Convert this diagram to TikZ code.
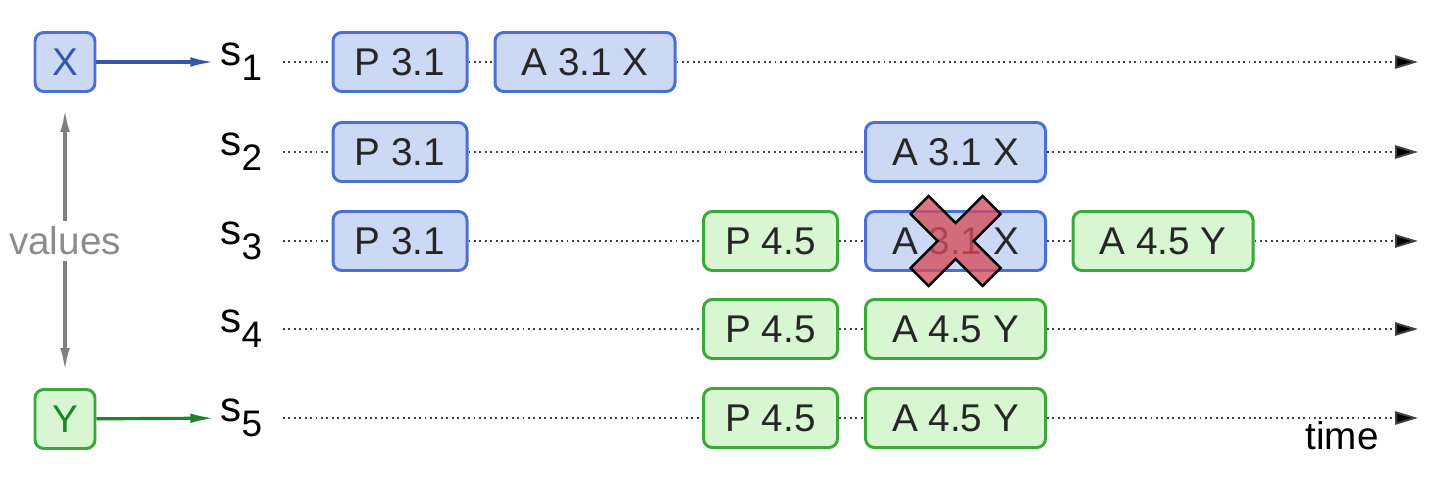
\documentclass[tikz,border=0pt]{standalone}
\usepackage{fontspec}
\setmainfont{Liberation Sans}
\usetikzlibrary{positioning, arrows.meta}
\definecolor{bluefill}{RGB}{203,217,245}
\definecolor{blueline}{RGB}{74,112,208}
\definecolor{bluedark}{RGB}{52,86,172}
\definecolor{greenfill}{RGB}{215,246,209}
\definecolor{greenline}{RGB}{58,168,58}
\definecolor{greendark}{RGB}{34,132,42}
\definecolor{crossred}{RGB}{212,78,92}
\newcommand{\lowidx}[1]{\raisebox{-0.36em}{\fontsize{21}{21}\selectfont #1}}

\begin{document}
\begin{tikzpicture}[
    font=\fontsize{22}{26}\selectfont,
    box/.style={draw, rounded corners=5pt, line width=1.7pt, minimum height=1.18cm, text=black!85},
    pbox/.style={box, minimum width=2.68cm},
    abox/.style={box, minimum width=3.6cm},
    vbox/.style={box, minimum width=1.2cm, minimum height=1.18cm},
    blu/.style={fill=bluefill, draw=blueline},
    grn/.style={fill=greenfill, draw=greenline},
    srv/.style={anchor=west, inner xsep=3pt, font=\fontsize{24}{26}\selectfont},
    timeline/.style={line width=1.1pt, dash pattern=on 1.1pt off 2pt, black!75},
    timeend/.style={timeline, -{Triangle[length=13pt,width=7.5pt,fill=black]}},
    feed/.style={line width=1.8pt, -{Latex[length=14pt,width=5.5pt]}},
    grayarrow/.style={line width=1.8pt, gray, -{Latex[length=13pt,width=5.5pt]}}
  ]
  \useasboundingbox (0,0) rectangle (29.08,-10.08);

  % values
  \node[vbox, blu, text=bluedark] (x) at (1.3,-1.24) {X};
  \node[vbox, grn, text=greendark] (y) at (1.3,-8.38) {Y};
  \node[text=black!45] (vals) at (1.3,-4.82) {values};

  % servers
  \node[srv] (s1) at (4.3,-1.24) {s\lowidx{1}};
  \node[srv] (s2) at (4.3,-3.04) {s\lowidx{2}};
  \node[srv] (s3) at (4.3,-4.82) {s\lowidx{3}};
  \node[srv] (s4) at (4.3,-6.58) {s\lowidx{4}};
  \node[srv] (s5) at (4.3,-8.36) {s\lowidx{5}};

  \coordinate (e1) at (28.36,-1.24);
  \coordinate (e2) at (28.36,-3.04);
  \coordinate (e3) at (28.36,-4.82);
  \coordinate (e4) at (28.36,-6.58);
  \coordinate (e5) at (28.36,-8.36);

  % messages
  \node[pbox, blu] (px1) at (8.0,-1.24) {P 3.1};
  \node[abox, blu] (ax1) at (11.7,-1.24) {A 3.1 X};
  \node[pbox, blu] (px2) at (8.0,-3.04) {P 3.1};
  \node[abox, blu] (ax2) at (19.11,-3.04) {A 3.1 X};
  \node[pbox, blu] (px3) at (8.0,-4.82) {P 3.1};
  \node[pbox, grn] (py3) at (15.41,-4.82) {P 4.5};
  \node[abox, blu] (ax3) at (19.11,-4.82) {A 3.1 X};
  \node[abox, grn] (ay3) at (23.26,-4.82) {A 4.5 Y};
  \node[pbox, grn] (py4) at (15.41,-6.58) {P 4.5};
  \node[abox, grn] (ay4) at (19.11,-6.58) {A 4.5 Y};
  \node[pbox, grn] (py5) at (15.41,-8.36) {P 4.5};
  \node[abox, grn] (ay5) at (19.11,-8.36) {A 4.5 Y};

  \node (t) at (26.84,-8.72) {time};

  \draw[feed, bluedark] (x) -- (s1);
  \draw[feed, greendark] (y) -- (s5);
  \draw[grayarrow, shorten >=0.32cm] (vals) -- (x);
  \draw[grayarrow, shorten >=0.34cm] (vals) -- (y);

  \draw[timeline, shorten <=0.3cm] (s1) -- (px1);
  \draw[timeline] (px1) -- (ax1);
  \draw[timeend] (ax1) -- (e1);
  \draw[timeline, shorten <=0.3cm] (s2) -- (px2);
  \draw[timeline] (px2) -- (ax2);
  \draw[timeend] (ax2) -- (e2);
  \draw[timeline, shorten <=0.3cm] (s3) -- (px3);
  \draw[timeline] (px3) -- (py3);
  \draw[timeline] (py3) -- (ax3);
  \draw[timeline] (ax3) -- (ay3);
  \draw[timeend] (ay3) -- (e3);
  \draw[timeline, shorten <=0.3cm] (s4) -- (py4);
  \draw[timeline] (py4) -- (ay4);
  \draw[timeend] (ay4) -- (e4);
  \draw[timeline, shorten <=0.3cm] (s5) -- (py5);
  \draw[timeline] (py5) -- (ay5);
  \draw[timeend] (ay5) -- (e5);

  % rejected accept
  \begin{scope}[shift={(ax3.center)}]
    \draw[line width=1.4pt, fill=crossred, fill opacity=0.78, line join=miter]
      (0,0.36) -- (0.54,0.9) -- (0.9,0.54) -- (0.36,0) -- (0.9,-0.54) -- (0.54,-0.9)
      -- (0,-0.36) -- (-0.54,-0.9) -- (-0.9,-0.54) -- (-0.36,0) -- (-0.9,0.54)
      -- (-0.54,0.9) -- cycle;
  \end{scope}
\end{tikzpicture}
\end{document}
